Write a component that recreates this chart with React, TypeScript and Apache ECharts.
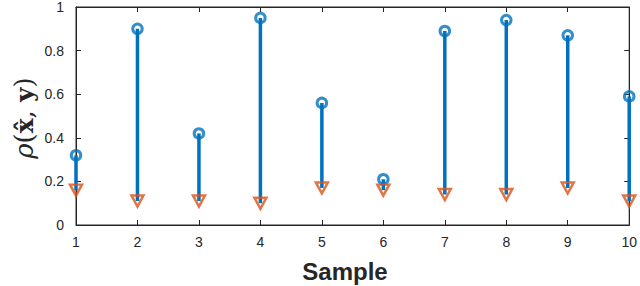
import React, { useEffect, useRef } from "react";
import * as echarts from "echarts";

const samples = [1, 2, 3, 4, 5, 6, 7, 8, 9, 10];
const rhoXhatY = [0.32, 0.9, 0.42, 0.95, 0.56, 0.21, 0.89, 0.94, 0.87, 0.59];
const baseline = [0.16, 0.11, 0.11, 0.1, 0.17, 0.16, 0.14, 0.14, 0.17, 0.11];
const yTicks = [0, 0.2, 0.4, 0.6, 0.8, 1];

const BLUE = "#0072BD";
const RED = "#D95319";
const AX = "#262626";

export default function App() {
  const ref = useRef<HTMLDivElement>(null);
  useEffect(() => {
    if (!ref.current) return;
    const chart = echarts.init(ref.current, undefined, { renderer: "svg" });
    const stems = samples.map((s, i) => [s, baseline[i], rhoXhatY[i]]);
    const tickFont = { fontFamily: "Liberation Sans, Arial, sans-serif", fontSize: 14, color: AX };
    chart.setOption({
      animation: false,
      grid: { left: 76, right: 9, top: 6, bottom: 61, show: true, borderColor: AX, borderWidth: 1, backgroundColor: "transparent" },
      xAxis: [
        {
          type: "value", min: 1, max: 10, interval: 1,
          axisLine: { show: true, onZero: false, lineStyle: { color: AX, width: 1 } },
          axisTick: { show: true, inside: true, length: 5, lineStyle: { color: AX } },
          axisLabel: { ...tickFont, margin: 10, formatter: (v: number) => String(v) },
          splitLine: { show: false },
        },
        {
          type: "value", min: 1, max: 10, interval: 1, position: "top",
          axisLine: { show: true, onZero: false, lineStyle: { color: AX, width: 1 } },
          axisTick: { show: true, inside: true, length: 5, lineStyle: { color: AX } },
          axisLabel: { show: false },
          splitLine: { show: false },
        },
      ],
      yAxis: [
        {
          type: "value", min: 0, max: 1, interval: 0.2,
          axisLine: { show: true, onZero: false, lineStyle: { color: AX, width: 1 } },
          axisTick: { show: true, inside: true, length: 5, lineStyle: { color: AX } },
          axisLabel: {
            ...tickFont, margin: 12,
            formatter: (v: number) => {
              const t = yTicks.find((y) => Math.abs(y - v) < 1e-6);
              return t === undefined ? "" : String(t);
            },
          },
          splitLine: { show: false },
        },
        {
          type: "value", min: 0, max: 1, interval: 0.2, position: "right",
          axisLine: { show: true, onZero: false, lineStyle: { color: AX, width: 1 } },
          axisTick: { show: true, inside: true, length: 5, lineStyle: { color: AX } },
          axisLabel: { show: false },
          splitLine: { show: false },
        },
      ],
      graphic: [
        {
          type: "text",
          x: 24, y: 118, rotation: Math.PI / 2,
          style: {
            text: "{r|ρ}{p|(}{b|x̂}{p|, }{b|y}{p|)}",
            align: "center", verticalAlign: "middle",
            rich: {
              r: { fontFamily: "DejaVu Serif, serif", fontStyle: "italic", fontSize: 26, fill: AX },
              p: { fontFamily: "DejaVu Serif, serif", fontSize: 26, fill: AX },
              b: { fontFamily: "DejaVu Serif, serif", fontWeight: "bold", fontSize: 25, fill: AX },
            },
          },
        },
        {
          type: "text",
          x: 345, y: 271,
          style: {
            text: "Sample",
            align: "center", verticalAlign: "middle",
            font: "bold 24px Liberation Sans, Arial, sans-serif",
            fill: AX,
          },
        },
      ],
      series: [
        {
          type: "custom",
          xAxisIndex: 0, yAxisIndex: 0,
          data: stems,
          encode: { x: 0, y: [1, 2] },
          renderItem: (params: any, api: any) => {
            const x = api.value(0);
            const p1 = api.coord([x, api.value(1)]);
            const p2 = api.coord([x, api.value(2)]);
            return {
              type: "line",
              shape: { x1: p1[0], y1: p1[1], x2: p2[0], y2: p2[1] },
              style: { stroke: BLUE, lineWidth: 3.5 },
            };
          },
          z: 2,
        },
        {
          type: "scatter",
          data: samples.map((s, i) => [s, rhoXhatY[i]]),
          symbol: "circle",
          symbolSize: 9.5,
          itemStyle: { color: "rgba(255,255,255,0)", borderColor: BLUE, borderWidth: 3 },
          z: 3,
        },
        {
          type: "scatter",
          data: samples.map((s, i) => [s, baseline[i]]),
          symbol: "triangle",
          symbolRotate: 180,
          symbolSize: [12, 11],
          itemStyle: { color: "rgba(255,255,255,0)", borderColor: RED, borderWidth: 2.5 },
          z: 4,
        },
      ],
    });
    return () => chart.dispose();
  }, []);
  return <div ref={ref} style={{ width: 640, height: 286, position: "absolute", left: 0, top: 0 }} />;
}
